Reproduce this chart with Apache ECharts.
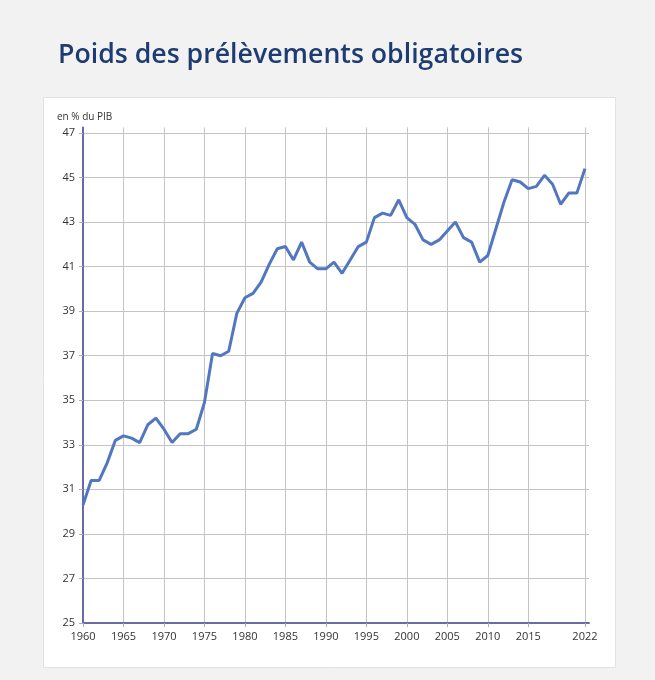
<!DOCTYPE html>
<html>
<head>
<meta charset="utf-8">
<script src="https://cdn.jsdelivr.net/npm/echarts@6/dist/echarts.min.js"></script>
<style>
html,body{margin:0;padding:0;background:#f2f2f2;}
#chart{width:655px;height:680px;}
</style>
</head>
<body>
<div id="chart"></div>
<script>
var titleText = "Poids des prélèvements obligatoires";
var unitLabel = "en % du PIB";
var years = [1960,1961,1962,1963,1964,1965,1966,1967,1968,1969,
             1970,1971,1972,1973,1974,1975,1976,1977,1978,1979,
             1980,1981,1982,1983,1984,1985,1986,1987,1988,1989,
             1990,1991,1992,1993,1994,1995,1996,1997,1998,1999,
             2000,2001,2002,2003,2004,2005,2006,2007,2008,2009,
             2010,2011,2012,2013,2014,2015,2016,2017,2018,2019,
             2020,2021,2022];
var values = [30.3,31.4,31.4,32.2,33.2,33.4,33.3,33.1,33.9,34.2,
              33.7,33.1,33.5,33.5,33.7,34.9,37.1,37.0,37.2,38.9,
              39.6,39.8,40.3,41.1,41.8,41.9,41.3,42.1,41.2,40.9,
              40.9,41.2,40.7,41.3,41.9,42.1,43.2,43.4,43.3,44.0,
              43.2,42.9,42.2,42.0,42.2,42.6,43.0,42.3,42.1,41.2,
              41.5,42.7,43.9,44.9,44.8,44.5,44.6,45.1,44.7,43.8,
              44.3,44.3,45.4];
var xTicks = [1960,1965,1970,1975,1980,1985,1990,1995,2000,2005,2010,2015,2022];
var yTicks = [25,27,29,31,33,35,37,39,41,43,45,47];

var chart = echarts.init(document.getElementById('chart'), null, {renderer:'canvas'});
var data = years.map(function(y,i){return [y, values[i]];});
var font = '"Open Sans", "Noto Sans", sans-serif';
chart.setOption({
  backgroundColor:'#f2f2f2',
  animation:false,
  graphic:[
    {type:'rect', shape:{x:43.5,y:97.5,width:572,height:570}, style:{fill:'#ffffff', stroke:'#e2e2e2', lineWidth:1}, z:-10},
    {type:'text', left:58, top:42, style:{text:titleText, fill:'#1e3c72', font:'600 26.7px ' + font}},
    {type:'text', left:57, top:112, style:{text:unitLabel, fill:'#333333', font:'10px ' + font}}
  ],
  grid:{left:83, right:66, top:127.4, bottom:57},
  xAxis:{
    type:'value', min:1960, max:2022.5,
    axisLine:{show:true, onZero:false, lineStyle:{color:'#6a6aa8', width:2}},
    axisTick:{show:true, customValues:xTicks, length:4, lineStyle:{color:'#b0b0b0'}},
    axisLabel:{customValues:xTicks, color:'#333333', fontSize:11, fontFamily:font, margin:8, formatter:function(v){return String(v);}},
    splitLine:{show:true, lineStyle:{color:'#c4c4c4', width:1}}
  },
  yAxis:{
    type:'value', min:25, max:47.25,
    axisLine:{show:true, lineStyle:{color:'#6a6aa8', width:2}},
    axisTick:{show:true, customValues:yTicks, length:4, lineStyle:{color:'#b0b0b0'}},
    axisLabel:{customValues:yTicks, color:'#333333', fontSize:11, fontFamily:font, margin:8},
    splitLine:{show:true, lineStyle:{color:'#c4c4c4', width:1}}
  },
  series:[{
    type:'line', data:data, showSymbol:false, symbol:'none',
    lineStyle:{color:'#5277c0', width:3}, z:5
  }]
});
</script>
</body>
</html>
